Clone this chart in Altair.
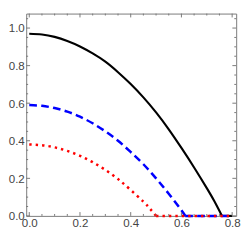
import altair as alt
import pandas as pd

# curve data (curved part, then flat part along zero)
x_black = [0, .05, .1, .15, .2, .25, .3, .35, .4, .45, .5, .55, .6, .65, .7, .73, .76]
y_black = [.97, .966, .953, .931, .902, .865, .821, .765, .702, .631, .551, .461, .362, .258, .148, .078, 0]
x_black_flat = [.76, .8]

x_blue = [0, .05, .1, .15, .2, .25, .3, .35, .4, .45, .5, .55, .6, .615]
y_blue = [.59, .586, .574, .555, .528, .493, .45, .40, .34, .275, .20, .118, .03, 0]
x_blue_flat = [.615, .8]

x_red = [0, .05, .1, .15, .2, .25, .3, .35, .4, .45, .475, .5]
y_red = [.38, .376, .365, .346, .32, .286, .245, .196, .138, .076, .04, 0]
x_red_flat = [.5, .8]

# tick positions
x_major = [0, .2, .4, .6, .8]
x_minor = [.05, .1, .15, .25, .3, .35, .45, .5, .55, .65, .7, .75]
y_major = [0, .2, .4, .6, .8, 1.0]
y_minor = [.05, .1, .15, .25, .3, .35, .45, .5, .55, .65, .7, .75, .85, .9, .95, 1.05]

W, H = 219, 211
FONT = "Liberation Sans Narrow, Liberation Sans, Arial, sans-serif"
FRAME = "#777777"

xs = alt.Scale(domain=[-0.012, 0.816], nice=False, zero=False)
ys = alt.Scale(domain=[0, 1.077], nice=False, zero=False)

xaxis = alt.Axis(values=x_major, format=".1f", ticks=False, domain=False, grid=False,
                 labelFont=FONT, labelFontSize=12, labelColor="#444444", labelPadding=2,
                 title=None, labelFlush=False, labelOverlap=False)
yaxis = alt.Axis(values=y_major, format=".1f", ticks=False, domain=False, grid=False,
                 labelFont=FONT, labelFontSize=12, labelColor="#444444", labelPadding=2,
                 title=None, labelOverlap=False)


def curve(xv, yv, xflat, color, dash, width):
    df = pd.concat([
        pd.DataFrame({"x": xv, "y": yv, "seg": "curve"}),
        pd.DataFrame({"x": xflat, "y": [0] * len(xflat), "seg": "flat"}),
    ])
    kw = dict(color=color, strokeWidth=width, interpolate="natural")
    if dash:
        kw["strokeDash"] = dash
    return alt.Chart(df).mark_line(**kw).encode(
        x=alt.X("x:Q", scale=xs, axis=xaxis),
        y=alt.Y("y:Q", scale=ys, axis=yaxis),
        detail="seg:N",
    )


def xticks(vals, length):
    df = pd.DataFrame({"x": vals})
    bottom = alt.Chart(df).mark_rule(color=FRAME, strokeWidth=1).encode(
        x=alt.X("x:Q", scale=xs, axis=xaxis), y=alt.value(H), y2=alt.value(H - length))
    top = alt.Chart(df).mark_rule(color=FRAME, strokeWidth=1).encode(
        x=alt.X("x:Q", scale=xs, axis=xaxis), y=alt.value(0), y2=alt.value(length))
    return [bottom, top]


def yticks(vals, length):
    df = pd.DataFrame({"y": vals})
    left = alt.Chart(df).mark_rule(color=FRAME, strokeWidth=1).encode(
        y=alt.Y("y:Q", scale=ys, axis=yaxis), x=alt.value(0), x2=alt.value(length))
    right = alt.Chart(df).mark_rule(color=FRAME, strokeWidth=1).encode(
        y=alt.Y("y:Q", scale=ys, axis=yaxis), x=alt.value(W), x2=alt.value(W - length))
    return [left, right]


layers = [
    curve(x_black, y_black, x_black_flat, "#000000", None, 2.2),
    curve(x_blue, y_blue, x_blue_flat, "#0000ff", [8, 4.5], 2.6),
    curve(x_red, y_red, x_red_flat, "#ff0000", [2.5, 4.2], 2.6),
]
layers += xticks(x_major, 4) + xticks(x_minor, 2) + yticks(y_major, 4) + yticks(y_minor, 2)

chart = alt.layer(*layers).properties(
    width=W, height=H, padding=0
).configure_view(stroke=FRAME, strokeWidth=1)

chart.save("out.html", embed_options={"renderer": "svg", "actions": False})
